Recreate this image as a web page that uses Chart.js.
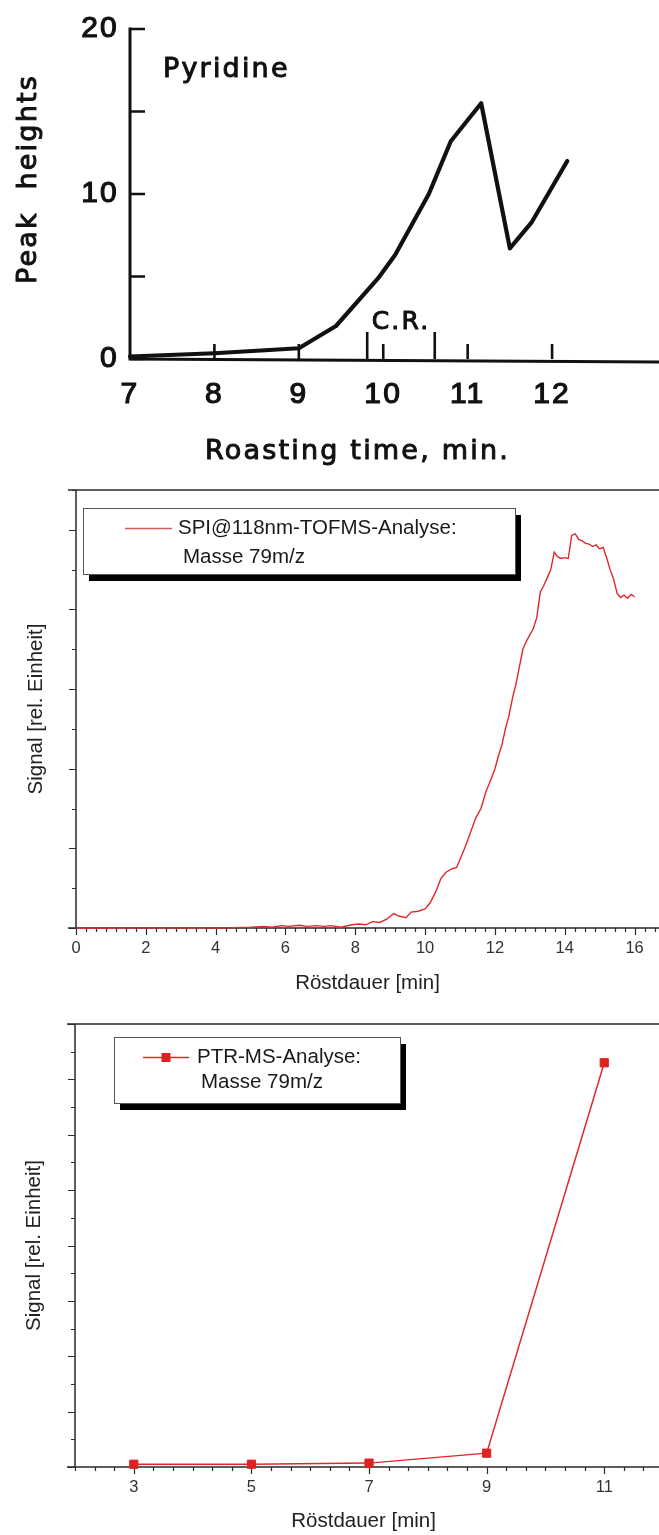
<!DOCTYPE html>
<html>
<head>
<meta charset="utf-8">
<script src="https://cdn.jsdelivr.net/npm/chart.js@4.4.1/dist/chart.umd.min.js"></script>
<style>
  html, body { margin: 0; padding: 0; background: #fff; }
  #page { position: relative; width: 659px; height: 1535px; overflow: hidden; background: #fff; }
  .panel { position: absolute; left: 0; width: 659px; }
  canvas { display: block; }
</style>
</head>
<body>
<div id="page">
  <div class="panel" style="top:0;height:480px"><canvas id="pyridineChart" width="659" height="480"></canvas></div>
  <div class="panel" style="top:480px;height:530px"><canvas id="spiChart" width="659" height="530"></canvas></div>
  <div class="panel" style="top:1010px;height:525px"><canvas id="ptrChart" width="659" height="525"></canvas></div>
</div>
<script>
// --- Panel 1: Pyridine peak heights (GC) ---
const pyrTime = [7, 8, 9, 9.44, 9.94, 10.14, 10.54, 10.8, 11.16, 11.5, 11.76, 12.18]
const pyrPeak = [0.15, 0.35, 0.65, 2.0, 4.9, 6.3, 10.0, 13.2, 15.5, 6.7, 8.3, 12.0]
const pyrXTickLabels = [7, 8, 9, 10, 11, 12]
const pyrXTickMarks = [8, 9, 10, 11, 12]
const pyrYTickMarks = [0, 5, 10, 15, 20]
const crMarks = [9.81, 10.61]

// --- Panel 2: SPI@118nm-TOFMS, mass 79 ---
const spiTime = [0, 0.5, 1, 1.5, 2, 2.5, 3, 3.5, 4, 4.5, 5,
  5.4, 5.6, 5.9, 6.1, 6.4, 6.6, 6.9, 7.1, 7.3, 7.6, 7.9,
  8.1, 8.3, 8.5, 8.7, 8.9,
  9.1, 9.25, 9.45, 9.6, 9.8,
  10.0, 10.15, 10.3, 10.45, 10.6, 10.75, 10.9,
  11.0, 11.15, 11.3, 11.45, 11.6, 11.75, 11.9,
  12.0, 12.1, 12.2, 12.3, 12.4, 12.5, 12.6, 12.7, 12.8, 12.9,
  13.0, 13.1, 13.2, 13.3, 13.4, 13.5, 13.6, 13.7, 13.8, 13.9,
  14.0, 14.1, 14.2, 14.3, 14.4, 14.5, 14.6, 14.7, 14.8, 14.9,
  15.0, 15.1, 15.2, 15.3, 15.4, 15.5, 15.6, 15.7, 15.8, 15.9,
  16.0]
const spiSignal = [0, 0, 0, 0.005, 0, 0.005, 0, 0.005, 0, 0.005, 0.01,
  0.02, 0.01, 0.03, 0.02, 0.035, 0.02, 0.03, 0.02, 0.03, 0.01, 0.04,
  0.05, 0.04, 0.08, 0.07, 0.11,
  0.18, 0.15, 0.13, 0.2, 0.21,
  0.24, 0.32, 0.45, 0.62, 0.7, 0.74, 0.76,
  0.86, 1.02, 1.2, 1.38, 1.5, 1.72, 1.88,
  2.0, 2.16, 2.3, 2.5, 2.66, 2.88, 3.06, 3.28, 3.5, 3.6,
  3.68, 3.76, 3.9, 4.22, 4.3, 4.4, 4.5, 4.72, 4.66, 4.64,
  4.65, 4.64, 4.93, 4.95, 4.88, 4.86, 4.83, 4.82, 4.79, 4.81,
  4.76, 4.78, 4.65, 4.5, 4.38, 4.2, 4.15, 4.18, 4.14, 4.19,
  4.16]
const spiXTickLabels = [0, 2, 4, 6, 8, 10, 12, 14, 16]
const spiLegend = ['SPI@118nm-TOFMS-Analyse:', 'Masse 79m/z']

// --- Panel 3: PTR-MS, mass 79 ---
const ptrTime = [3, 5, 7, 9, 11]
const ptrSignal = [0.05, 0.05, 0.07, 0.25, 7.3]
const ptrXTickLabels = [3, 5, 7, 9, 11]
const ptrLegend = ['PTR-MS-Analyse:', 'Masse 79m/z']

const RED = '#e02828'
const AXIS = '#2a2a2a'
const TEXT = '#1a1a1a'

Chart.defaults.font.family = '"Liberation Sans", Arial, sans-serif'
Chart.defaults.color = TEXT

const toPoints = (xs, ys) => xs.map((x, i) => ({ x, y: ys[i] }))
const fixedTicks = (values) => (scale) => { scale.ticks = values.map(v => ({ value: v })) }

// --- Panel 1 ---
const pyrFont = '"DejaVu Sans", Verdana, sans-serif'
const pyrDigits = { family: '"Liberation Sans", Arial, sans-serif', size: 30 }

// heavy print look: fill plus a thin outline
function inkText(ctx, str, x, y) {
  ctx.fillText(str, x, y)
  ctx.strokeText(str, x, y)
}

const pyrAxesPlugin = {
  id: 'pyrAxes',
  beforeDraw(chart) { chart.ctx.letterSpacing = '2.2px' },
  afterDraw(chart) {
    const { ctx, chartArea: a, scales: { x, y } } = chart
    const y0 = y.getPixelForValue(0)
    ctx.save()
    ctx.strokeStyle = '#111'
    ctx.lineWidth = 3
    ctx.beginPath()
    ctx.moveTo(a.left, y.getPixelForValue(20) - 1.5)
    ctx.lineTo(a.left, y0 + 1.5)
    // x axis continues to the edge of the figure
    ctx.moveTo(a.left - 1.5, y0)
    ctx.lineTo(chart.width, y0 + 3)
    ctx.stroke()

    ctx.lineWidth = 2.6
    ctx.beginPath()
    pyrYTickMarks.forEach(v => {
      const py = y.getPixelForValue(v)
      ctx.moveTo(a.left, py)
      ctx.lineTo(a.left + 15, py)
    })
    pyrXTickMarks.forEach(v => {
      const px = x.getPixelForValue(v)
      ctx.moveTo(px, y0)
      ctx.lineTo(px, y0 - 15)
    })
    crMarks.forEach(v => {
      const px = x.getPixelForValue(v)
      ctx.moveTo(px, y0)
      ctx.lineTo(px, y0 - 27)
    })
    ctx.stroke()

    ctx.fillStyle = '#111'
    ctx.strokeStyle = '#111'
    ctx.lineWidth = 1
    ctx.lineJoin = 'round'
    ctx.font = '27px ' + pyrFont
    ctx.textBaseline = 'alphabetic'
    ctx.textAlign = 'left'
    inkText(ctx, 'Pyridine', x.getPixelForValue(7.39), y.getPixelForValue(17.1))

    ctx.textAlign = 'center'
    ctx.textBaseline = 'middle'
    inkText(ctx, 'Roasting time, min.', (a.left + a.right) / 2, 452)

    ctx.font = '25px ' + pyrFont
    inkText(ctx, 'C.R.', x.getPixelForValue(10.21), y.getPixelForValue(2.2))

    ctx.font = '27px ' + pyrFont
    ctx.translate(29, 179)
    ctx.rotate(-Math.PI / 2)
    inkText(ctx, 'Peak  heights', 0, 0)
    ctx.restore()
    ctx.letterSpacing = '0px'
  }
}

new Chart(document.getElementById('pyridineChart'), {
  type: 'line',
  data: {
    datasets: [{
      label: 'Pyridine',
      data: toPoints(pyrTime, pyrPeak),
      borderColor: '#111',
      borderWidth: 4.2,
      borderJoinStyle: 'round',
      borderCapStyle: 'round',
      pointRadius: 0,
      tension: 0,
      fill: false,
      clip: false
    }]
  },
  options: {
    responsive: false,
    animation: false,
    layout: { padding: { top: 27, right: 74, left: 0, bottom: 0 } },
    plugins: { legend: { display: false }, tooltip: { enabled: false } },
    scales: {
      x: {
        type: 'linear',
        min: 7,
        max: 12.39,
        afterBuildTicks: fixedTicks(pyrXTickLabels),
        afterFit: (s) => { s.height = 121 },
        grid: { display: false, drawTicks: false },
        border: { display: false },
        ticks: { padding: 18, color: '#111', font: pyrDigits, textStrokeColor: '#111', textStrokeWidth: 1.2 }
      },
      y: {
        min: 0,
        max: 20,
        afterFit: (s) => { s.width = 130 },
        grid: { display: false, drawTicks: false },
        border: { display: false },
        ticks: { stepSize: 10, padding: 11, color: '#111', font: pyrDigits, textStrokeColor: '#111', textStrokeWidth: 1.2 }
      }
    }
  },
  plugins: [pyrAxesPlugin]
})

// --- Panels 2 & 3: framed axes with outward ticks and a shadowed legend ---
function framePlugin(cfg) {
  return {
    id: 'frame',
    beforeDatasetsDraw(chart) {
      const { ctx, chartArea: a, scales: { x, y } } = chart
      ctx.save()
      ctx.strokeStyle = AXIS
      ctx.lineWidth = 1.5
      ctx.beginPath()
      ctx.moveTo(a.left, a.bottom)
      ctx.lineTo(a.left, a.top)
      ctx.moveTo(a.left - 8, a.top)
      ctx.lineTo(chart.width, a.top)
      ctx.moveTo(a.left - 8, a.bottom)
      ctx.lineTo(chart.width, a.bottom)
      ctx.stroke()

      ctx.lineWidth = 1.2
      ctx.beginPath()
      for (let k = 0; ; k++) {
        const v = y.min + k * cfg.yStep
        if (v > y.max + 1e-6) break
        const major = Math.abs(v - Math.round(v)) < 1e-6
        const py = Math.round(y.getPixelForValue(v)) + 0.5
        ctx.moveTo(a.left, py)
        ctx.lineTo(a.left - (major ? 7 : 4), py)
      }
      for (let k = 0; ; k++) {
        const v = x.min + k * cfg.xStep
        if (v > x.max + 1e-6) break
        const major = cfg.xLabels.some(l => Math.abs(l - v) < 1e-6)
        const px = Math.round(x.getPixelForValue(v)) + 0.5
        ctx.moveTo(px, a.bottom)
        ctx.lineTo(px, a.bottom + (major ? 7 : 4))
      }
      ctx.stroke()
      ctx.restore()
    },
    afterDatasetsDraw(chart) {
      const { ctx } = chart
      const b = cfg.box
      const ds = chart.data.datasets[0]
      ctx.save()
      ctx.fillStyle = '#000'
      ctx.fillRect(b.left + 6, b.top + 7, b.right - b.left, b.bottom - b.top)
      ctx.fillStyle = '#fff'
      ctx.fillRect(b.left, b.top, b.right - b.left, b.bottom - b.top)
      ctx.strokeStyle = '#555'
      ctx.lineWidth = 1
      ctx.strokeRect(b.left + 0.5, b.top + 0.5, b.right - b.left, b.bottom - b.top)

      const s = cfg.symbol
      ctx.strokeStyle = s.color
      ctx.lineWidth = 1.5
      ctx.beginPath()
      ctx.moveTo(s.x0, s.y)
      ctx.lineTo(s.x1, s.y)
      ctx.stroke()
      if (s.marker) {
        ctx.fillStyle = ds.pointBackgroundColor
        ctx.fillRect((s.x0 + s.x1) / 2 - 4.5, s.y - 4.5, 9, 9)
      }

      ctx.fillStyle = TEXT
      ctx.font = '20.5px "Liberation Sans", Arial, sans-serif'
      ctx.textAlign = 'left'
      ctx.textBaseline = 'middle'
      cfg.legend.forEach((line, i) => {
        ctx.fillText(line, cfg.text[i].x, cfg.text[i].y)
      })
      ctx.restore()
    }
  }
}

function axisOptions(o) {
  return {
    x: {
      type: 'linear',
      min: o.xMin,
      max: o.xMax,
      afterBuildTicks: fixedTicks(o.xLabels),
      afterFit: (s) => { s.height = o.xHeight },
      grid: { display: false, drawTicks: false },
      border: { display: false },
      ticks: { padding: 10.4, color: '#333', font: { size: 16.5 } },
      title: {
        display: true,
        text: 'Röstdauer [min]',
        color: '#222',
        font: { size: 20.5 },
        padding: { top: 0, bottom: o.xTitlePad }
      }
    },
    y: {
      min: 0,
      max: o.yMax,
      afterFit: (s) => { s.width = o.yWidth },
      grid: { display: false, drawTicks: false },
      border: { display: false },
      ticks: { display: false },
      title: {
        display: true,
        text: 'Signal [rel. Einheit]',
        color: '#222',
        font: { size: 20.5 },
        padding: { top: o.yTitlePad, bottom: 0 }
      }
    }
  }
}

new Chart(document.getElementById('spiChart'), {
  type: 'line',
  data: {
    datasets: [{
      label: spiLegend.join(' '),
      data: toPoints(spiTime, spiSignal),
      borderColor: RED,
      borderWidth: 1.4,
      pointRadius: 0,
      tension: 0,
      fill: false,
      clip: false
    }]
  },
  options: {
    responsive: false,
    animation: false,
    layout: { padding: { top: 10, right: 0, left: 0, bottom: 0 } },
    plugins: { legend: { display: false }, tooltip: { enabled: false } },
    scales: axisOptions({
      xMin: 0, xMax: 16.7, xLabels: spiXTickLabels, xHeight: 82, xTitlePad: 14.7,
      yMax: 5.5, yWidth: 76, yTitlePad: 23.7
    })
  },
  plugins: [framePlugin({
    yStep: 0.5,
    xStep: 2 / 7,
    xLabels: spiXTickLabels,
    legend: spiLegend,
    box: { left: 83, top: 28, right: 515, bottom: 94 },
    symbol: { x0: 125, x1: 172, y: 48.5, color: '#d65a5a', marker: false },
    text: [{ x: 178, y: 48 }, { x: 183, y: 77 }]
  })]
})

new Chart(document.getElementById('ptrChart'), {
  type: 'line',
  data: {
    datasets: [{
      label: ptrLegend.join(' '),
      data: toPoints(ptrTime, ptrSignal),
      borderColor: RED,
      borderWidth: 1.5,
      pointStyle: 'rect',
      pointRadius: 5.8,
      pointBorderWidth: 1,
      pointBackgroundColor: '#dd2222',
      pointBorderColor: '#dd2222',
      tension: 0,
      fill: false,
      clip: false
    }]
  },
  options: {
    responsive: false,
    animation: false,
    layout: { padding: { top: 14, right: 0, left: 0, bottom: 0 } },
    plugins: { legend: { display: false }, tooltip: { enabled: false } },
    scales: axisOptions({
      xMin: 2, xMax: 11.815, xLabels: ptrXTickLabels, xHeight: 68, xTitlePad: 1.7,
      yMax: 8, yWidth: 75, yTitlePad: 21.7
    })
  },
  plugins: [framePlugin({
    yStep: 0.5,
    xStep: 1 / 3,
    xLabels: ptrXTickLabels,
    legend: ptrLegend,
    box: { left: 114, top: 27, right: 400, bottom: 93 },
    symbol: { x0: 143, x1: 189, y: 47.5, color: RED, marker: true },
    text: [{ x: 197, y: 47 }, { x: 201, y: 72 }]
  })]
})
</script>
</body>
</html>
